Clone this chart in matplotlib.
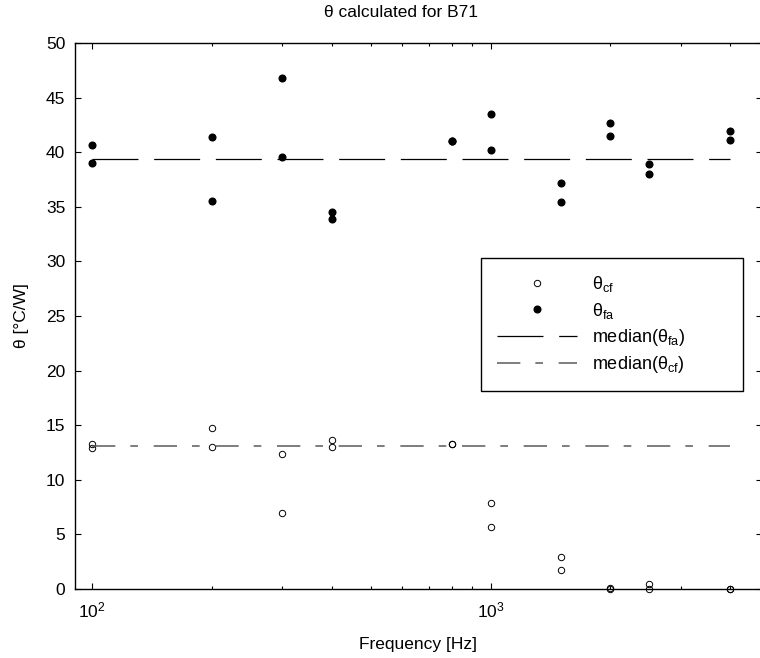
import matplotlib
matplotlib.use('Agg')
import matplotlib.pyplot as plt
from matplotlib.ticker import NullFormatter

# data
freqs = [100, 200, 300, 400, 800, 1000, 1500, 2000, 2500, 4000]
theta_fa_a = [40.7, 41.4, 46.8, 34.5, 41.0, 43.5, 37.2, 42.7, 38.9, 41.9]
theta_fa_b = [39.0, 35.5, 39.6, 33.9, 41.0, 40.2, 35.4, 41.5, 38.0, 41.1]
theta_cf_a = [13.3, 14.7, 12.4, 13.6, 13.3, 7.9, 2.9, 0.05, 0.5, 0.0]
theta_cf_b = [12.9, 13.0, 7.0, 13.0, 13.3, 5.7, 1.7, 0.0, 0.0, 0.0]
median_fa = 39.35
median_cf = 13.1
yticks = [0, 5, 10, 15, 20, 25, 30, 35, 40, 45, 50]

plt.rcParams['font.family'] = ['Liberation Sans', 'DejaVu Sans']
plt.rcParams['mathtext.fontset'] = 'custom'
plt.rcParams['mathtext.rm'] = 'Liberation Sans'
plt.rcParams['mathtext.it'] = 'Liberation Sans'
plt.rcParams['mathtext.default'] = 'regular'
plt.rcParams['lines.scale_dashes'] = False
fs = 12.5

fig = plt.figure(figsize=(7.6, 6.58), dpi=100)
ax = fig.add_axes([75/760, 69/658, 687/760, 546/658])

xs = freqs + freqs
cf = theta_cf_a + theta_cf_b
fa = theta_fa_a + theta_fa_b

ax.plot(xs, cf, linestyle='none', marker='o', markersize=4.6, markerfacecolor='none',
        markeredgecolor='k', markeredgewidth=0.7, clip_on=False, label=r'$\theta_{cf}$')
ax.plot(xs, fa, linestyle='none', marker='o', markersize=4.8, color='k',
        clip_on=False, label=r'$\theta_{fa}$')
ax.plot([freqs[0], freqs[-1]], [median_fa, median_fa], color='k', lw=0.9,
        linestyle=(0, (33.1, 11.3)), label=r'median($\theta_{fa}$)')
ax.plot([freqs[0], freqs[-1]], [median_cf, median_cf], color='#5a5a5a', lw=1.1,
        linestyle=(0, (16.8, 10.8, 5.5, 11.3)), label=r'median($\theta_{cf}$)')

ax.set_xscale('log')
ax.set_xlim(90.6, 4800)
ax.set_ylim(0, 50)
ax.set_yticks(yticks)
ax.xaxis.set_minor_formatter(NullFormatter())
ax.tick_params(which='both', direction='in', top=True, right=True, width=0.8, labelsize=fs)
ax.tick_params(which='major', length=4.3)
ax.tick_params(which='minor', length=2.5)
ax.tick_params(axis='x', which='major', pad=8)
ax.tick_params(axis='y', which='major', pad=7)
for s in ax.spines.values():
    s.set_linewidth(1.0)

ax.set_title('θ calculated for B71', fontsize=fs, x=0.475, pad=19)
ax.set_xlabel('Frequency [Hz]', fontsize=fs, labelpad=12)
ax.set_ylabel('θ [°C/W]', fontsize=fs, labelpad=12)

x0 = (481 - 75) / 687
y1 = (589 - 258) / 546
y0 = (589 - 388) / 546
leg = ax.legend(loc='upper left', bbox_to_anchor=(x0, y0, (743 - 481) / 687, y1 - y0),
                mode='expand', borderaxespad=0, fancybox=False, edgecolor='k',
                framealpha=1, handlelength=4.4, handletextpad=0.85, numpoints=1,
                labelspacing=0.35, borderpad=0.9, fontsize=13)
leg.get_frame().set_linewidth(1.0)

fig.savefig('out.png', dpi=100)
